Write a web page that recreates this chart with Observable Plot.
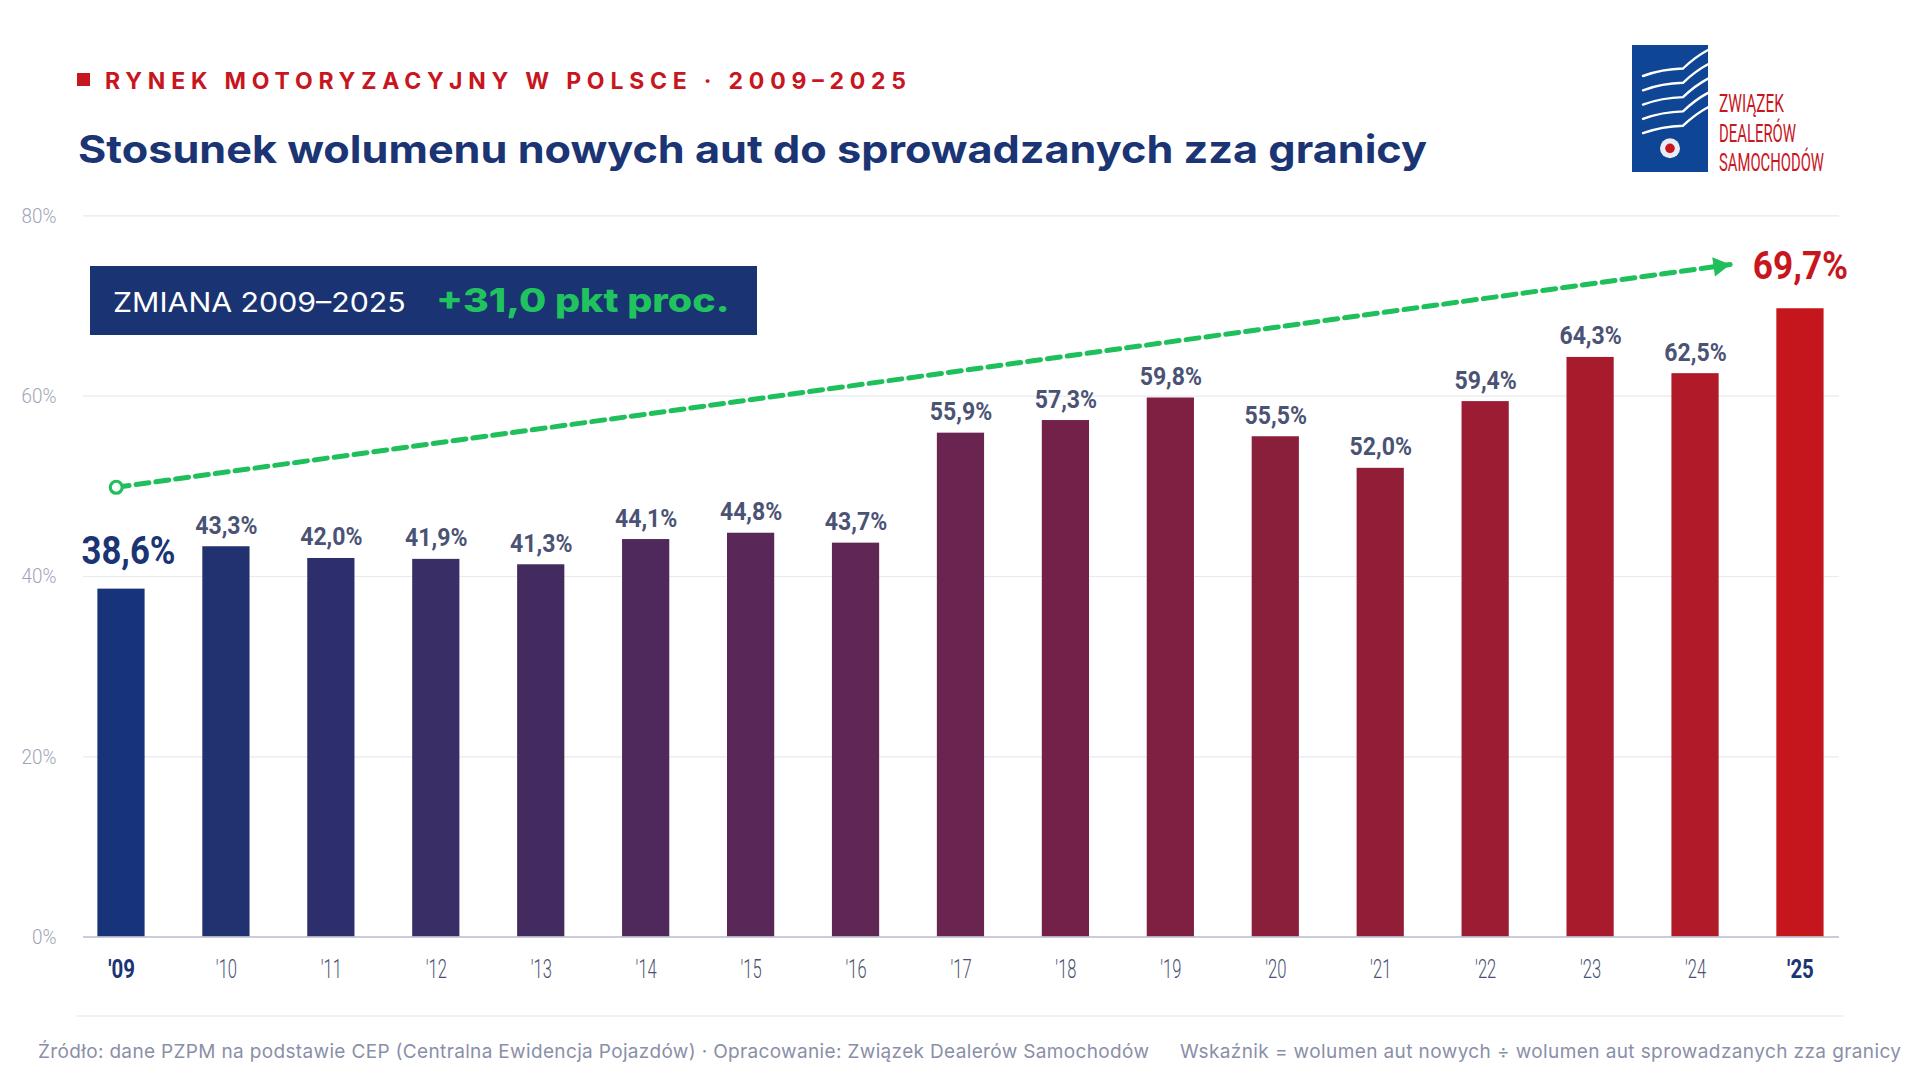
<!DOCTYPE html>
<html><head><meta charset="utf-8">
<script src="https://cdn.jsdelivr.net/npm/d3@7"></script>
<script src="https://cdn.jsdelivr.net/npm/@observablehq/plot@0.6"></script>
<style>
html,body{margin:0;padding:0;background:#fff;}
#page{position:relative;width:1920px;height:1080px;overflow:hidden;font-family:Inter,"Noto Sans",sans-serif;}
#chart{position:absolute;left:0;top:190px;}
#decor{position:absolute;left:0;top:0;pointer-events:none;}
</style></head>
<body>
<div id="page">
<div id="chart"></div>
<svg id="decor" width="1920" height="1080" font-family="Inter, 'Noto Sans', sans-serif">
  <rect x="77" y="73" width="13" height="13" fill="#c8161e"/>
  <text x="105" y="89.3" font-size="23" font-weight="700" fill="#c8161e" textLength="801" lengthAdjust="spacing">RYNEK MOTORYZACYJNY W POLSCE · 2009–2025</text>
  <text x="78" y="163.3" font-size="38.5" font-weight="700" fill="#1b3474" textLength="1349" lengthAdjust="spacingAndGlyphs">Stosunek wolumenu nowych aut do sprowadzanych zza granicy</text>

  <g id="logo">
    <rect x="1632" y="45" width="76" height="127" fill="#0e4595"/>
    <g fill="none" stroke="#ffffff" stroke-width="2.4" stroke-linecap="round">
      <path d="M1643,76 Q1662,69 1683,68.5 Q1695,57 1708,50"/>
      <path d="M1643,90.3 Q1662,83.3 1683,82.8 Q1695,71.3 1708,64.3"/>
      <path d="M1643,104.6 Q1662,97.6 1683,97.1 Q1695,85.6 1708,78.6"/>
      <path d="M1643,118.9 Q1662,111.9 1683,111.4 Q1695,99.9 1708,92.9"/>
      <path d="M1643,133.2 Q1662,126.2 1683,125.7 Q1695,114.2 1708,107.2"/>
    </g>
    <circle cx="1670" cy="148.3" r="10" fill="#e9ecf3"/>
    <circle cx="1670" cy="148.3" r="4.8" fill="#c8161e"/>
    <g font-family="Roboto, sans-serif" font-size="26.5" fill="#c8161e">
      <text x="1719" y="111.7" textLength="65" lengthAdjust="spacingAndGlyphs">ZWIĄZEK</text>
      <text x="1719" y="141.7" textLength="77" lengthAdjust="spacingAndGlyphs">DEALERÓW</text>
      <text x="1719" y="170.7" textLength="105" lengthAdjust="spacingAndGlyphs">SAMOCHODÓW</text>
    </g>
  </g>

  <rect x="90" y="266" width="667" height="69" fill="#1a3373"/>
  <text x="113" y="311.7" font-size="27.5" font-weight="400" fill="#ffffff" textLength="292.6" lengthAdjust="spacingAndGlyphs">ZMIANA 2009–2025</text>
  <text x="436" y="311.7" font-size="32.5" font-weight="800" fill="#21c35f" textLength="293.6" lengthAdjust="spacingAndGlyphs">+31,0 pkt proc.</text>

  <line x1="77" x2="1843" y1="1016" y2="1016" stroke="#ececf0" stroke-width="1.5"/>
  <text x="38" y="1058" font-size="19" fill="#8a8fa8" textLength="1111" lengthAdjust="spacing">Źródło: dane PZPM na podstawie CEP (Centralna Ewidencja Pojazdów) · Opracowanie: Związek Dealerów Samochodów</text>
  <text x="1180" y="1058" font-size="19" fill="#8a8fa8" textLength="721" lengthAdjust="spacing">Wskaźnik = wolumen aut nowych ÷ wolumen aut sprowadzanych zza granicy</text>
</svg>
</div>
<script>
// ---- data ----
const years = [2009,2010,2011,2012,2013,2014,2015,2016,2017,2018,2019,2020,2021,2022,2023,2024,2025];
const values = [38.6,43.3,42.0,41.9,41.3,44.1,44.8,43.7,55.9,57.3,59.8,55.5,52.0,59.4,64.3,62.5,69.7];
const barColors = ["#17337a","#22316f","#2c2f6b","#392e66","#432b5f","#4f295b","#592858","#602654",
                   "#6a2450","#74214a","#7f2043","#8a1f3c","#921d37","#9c1c33","#a81b2d","#b11a28","#c4161c"];
const yTicks = [0,20,40,60,80];
const trendYears = [2008.95, 2024.33];
const trendValues = [49.9, 74.6];

const data = years.map((year,i)=>({year, value: values[i]}));
const trend = trendYears.map((year,i)=>({year, value: trendValues[i]}));
const first = data[0], last = data[data.length-1], mid = data.slice(1,-1);
const endYears = [years[0], years[years.length-1]];
const midYears = years.slice(1,-1);
const fmt = v => v.toFixed(1).replace(".", ",") + "%";
const tick = y => "'" + String(y).slice(2);
const BAR_HALF = 0.225;
const GREEN = "#1fbf5c";

const chart = Plot.plot({
  width:1920, height:820,
  marginLeft:83, marginRight:81, marginTop:25.4, marginBottom:73.4,
  style:{background:"transparent", fontFamily:"Roboto, sans-serif", overflow:"visible"},
  x:{type:"linear", domain:[2008.638, 2025.372], axis:null},
  y:{domain:[0,80], axis:null},
  color:{type:"ordinal", domain: years, range: barColors},
  marks:[
    Plot.gridY(yTicks.slice(1), {stroke:"#e9eaef", strokeOpacity:1, strokeWidth:1.2}),
    Plot.axisY(yTicks, {tickSize:0, tickPadding:27, tickFormat:d=>d+"%", fontSize:21, fontWeight:300, fill:"#9ea3b8", label:null}),
    Plot.rectY(data, {x1:d=>d.year-BAR_HALF, x2:d=>d.year+BAR_HALF, y:"value", fill:"year"}),
    Plot.ruleY([0], {stroke:"#b9bdcc", strokeWidth:1.5}),
    Plot.axisX(midYears, {tickSize:0, tickPadding:23, tickFormat:tick, fontSize:25.5, fontWeight:300, fill:"#4a5274", label:null}),
    Plot.axisX(endYears, {tickSize:0, tickPadding:23, tickFormat:tick, fontSize:25.5, fontWeight:700, fill:"#1b3474", label:null}),
    Plot.text(mid, {x:"year", y:"value", text:d=>fmt(d.value), lineAnchor:"bottom", dy:-13, fontSize:26.5, fontWeight:700, fill:"#4b5375"}),
    Plot.text([first], {x:"year", y:"value", text:d=>fmt(d.value), lineAnchor:"bottom", dy:-25, dx:7, fontSize:39, fontWeight:700, fill:"#1b3474"}),
    Plot.text([last], {x:"year", y:"value", text:d=>fmt(d.value), lineAnchor:"bottom", dy:-30, fontSize:39.5, fontWeight:700, fill:"#c8161e"}),
    Plot.line(trend, {x:"year", y:"value", stroke:GREEN, strokeWidth:5, strokeDasharray:"13,7"}),
    Plot.dot([trend[0]], {x:"year", y:"value", r:6, fill:"white", stroke:GREEN, strokeWidth:3.2}),
    Plot.dot([trend[1]], {x:"year", y:"value", symbol:"triangle", r:7.2, fill:GREEN, stroke:"none", rotate:82, dx:-11, dy:1.5})
  ]
});
document.getElementById("chart").appendChild(chart);

// condense label glyphs (the reference uses a condensed face)
chart.querySelectorAll("text").forEach(t=>{
  const cs = getComputedStyle(t);
  const fs = parseFloat(cs.fontSize), fw = parseInt(cs.fontWeight);
  let f;
  if (fs >= 38) f = 0.89;
  else if (fs >= 26) f = 0.87;
  else if (fs >= 25 && fw >= 600) f = 0.8;
  else if (fs >= 25) f = 0.65;
  else f = 0.9;
  const len = t.getComputedTextLength();
  t.setAttribute("textLength", (len*f).toFixed(1));
  t.setAttribute("lengthAdjust", "spacingAndGlyphs");
});
</script>
</body></html>
